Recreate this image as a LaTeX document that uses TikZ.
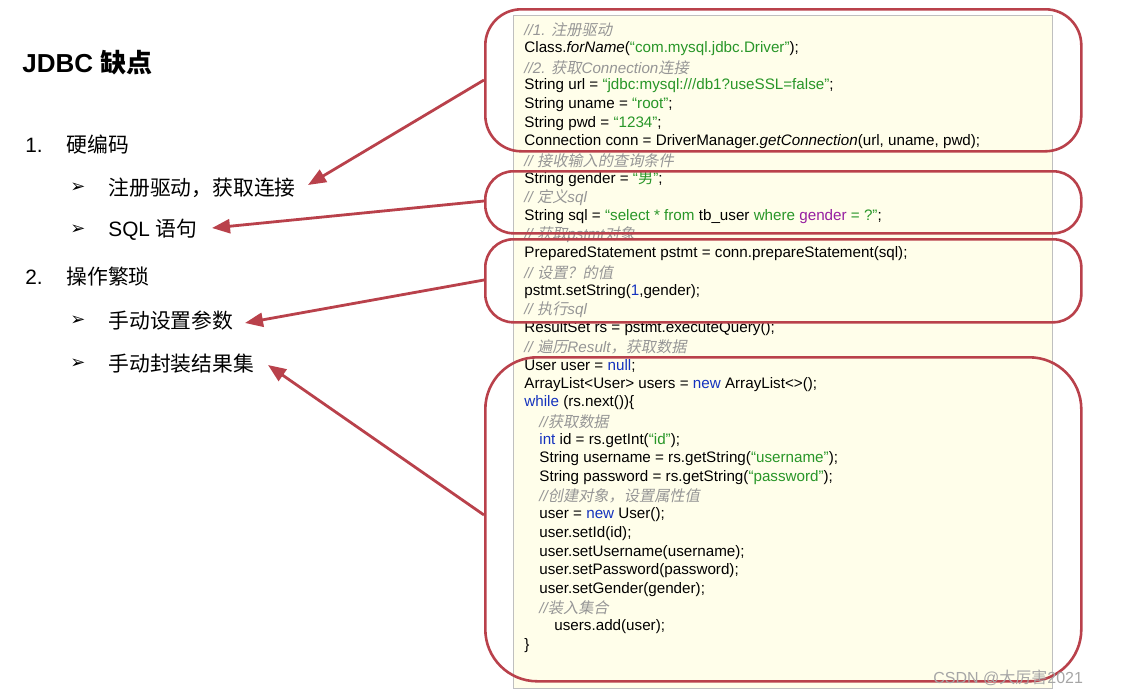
\documentclass[tikz,border=0pt]{standalone}
\usepackage{fontspec}
\setmainfont{Liberation Sans}
\newfontfamily\cjk{Noto Sans CJK SC}
\newfontfamily\cjki{Noto Sans CJK SC}[FakeSlant=0.2]
\newfontfamily\dv{DejaVu Sans}
\usetikzlibrary{arrows.meta}
\definecolor{boxred}{RGB}{185,65,75}
\definecolor{strgreen}{RGB}{40,150,40}
\definecolor{kwblue}{RGB}{20,50,190}
\definecolor{cmtgrey}{RGB}{150,150,150}
\definecolor{purp}{RGB}{150,30,160}
\definecolor{paper}{RGB}{255,254,234}
\tikzset{
	code/.style={font=\fontsize{7.6}{8}\selectfont, anchor=west, inner sep=0pt},
	lab/.style={font=\fontsize{10.4}{12}\selectfont, anchor=west, inner sep=0pt},
	redbox/.style={draw=boxred, line width=1.3pt, rounded corners=14pt},
	rarr/.style={draw=boxred, line width=1.4pt, -{Triangle[length=9pt,width=7pt]}},
}
\newcommand{\cm}[1]{\textcolor{cmtgrey}{\itshape #1}}
\newcommand{\zh}[1]{{\cjki #1}}
\newcommand{\st}[1]{\textcolor{strgreen}{#1}}
\newcommand{\kw}[1]{\textcolor{kwblue}{#1}}
\newcommand{\ind}{\hspace*{7.5pt}}
\begin{document}
\begin{tikzpicture}[x=0.5pt,y=-0.5pt]
	\useasboundingbox (0,0) rectangle (1128,696);
	
	% ------------------- code sheet -------------------
	\node[draw=black!25, fill=paper, minimum width=269.5pt, minimum height=336.5pt, inner sep=0pt, anchor=north west] (sheet) at (513,15) {};
	
	\foreach \t [count=\i] in {
		{\cm{//1. \zh{注册驱动}}},
		{Class.\textit{forName}(\st{“com.mysql.jdbc.Driver”});},
		{\cm{//2. \zh{获取}Connection\zh{连接}}},
		{String url = \st{“jdbc:mysql:///db1?useSSL=false”};},
		{String uname = \st{“root”};},
		{String pwd = \st{“1234”};},
		{Connection conn = DriverManager.\textit{getConnection}(url, uname, pwd);},
		{\cm{// \zh{接收输入的查询条件}}},
		{String gender = \st{“{\cjk 男}”};},
		{\cm{// \zh{定义}sql}},
		{String sql = \st{“select * from} tb\_user \st{where} \textcolor{purp}{gender} \st{= ?”};},
		{\cm{// \zh{获取}pstmt\zh{对象}}},
		{PreparedStatement pstmt = conn.prepareStatement(sql);},
		{\cm{// \zh{设置？的值}}},
		{pstmt.setString(\kw{1},gender);},
		{\cm{// \zh{执行}sql}},
		{ResultSet rs = pstmt.executeQuery();},
		{\cm{// \zh{遍历}Result\zh{，获取数据}}},
		{User user = \kw{null};},
		{ArrayList<User> users = \kw{new} ArrayList<>();},
		{\kw{while} (rs.next())\{},
		{\ind\cm{//\zh{获取数据}}},
		{\ind\kw{int} id = rs.getInt(\st{“id”});},
		{\ind String username = rs.getString(\st{“username”});},
		{\ind String password = rs.getString(\st{“password”});},
		{\ind\cm{//\zh{创建对象，设置属性值}}},
		{\ind user = \kw{new} User();},
		{\ind user.setId(id);},
		{\ind user.setUsername(username);},
		{\ind user.setPassword(password);},
		{\ind user.setGender(gender);},
		{\ind\cm{//\zh{装入集合}}},
		{\ind\ind users.add(user);},
		{\}}}
		\node[code] (c\i) at (524,{30+18.65*(\i-1)}) {\t};
	
	% ------------------- red frames -------------------
	\node[redbox, rounded corners=18pt, minimum width=298pt, minimum height=71pt, inner sep=0pt, anchor=north west] (b1) at (484,8) {};
	\node[redbox, minimum width=298pt, minimum height=31pt, inner sep=0pt, anchor=north west] (b2) at (484,170) {};
	\node[redbox, minimum width=298pt, minimum height=41.5pt, inner sep=0pt, anchor=north west] (b3) at (484,238) {};
	\node[redbox, rounded corners=26pt, minimum width=298pt, minimum height=162pt, inner sep=0pt, anchor=north west] (b4) at (484,356) {};
	
	% ------------------- left list -------------------
	\node[lab, font=\fontsize{13}{15}\selectfont\bfseries] (title) at (22,63) {JDBC {\cjk\bfseries 缺点}};
	\node[lab] (n1) at (25,145) {1.};
	\node[lab] (h1) at (66,145) {\cjk 硬编码};
	\node[lab] (m1) at (70,188) {\dv\fontsize{9}{10}\selectfont ➢};
	\node[lab] (i1) at (108,188) {\cjk 注册驱动，获取连接};
	\node[lab] (m2) at (70,230) {\dv\fontsize{9}{10}\selectfont ➢};
	\node[lab] (i2) at (108,230) {SQL {\cjk 语句}};
	\node[lab] (n2) at (25,277) {2.};
	\node[lab] (h2) at (66,277) {\cjk 操作繁琐};
	\node[lab] (m3) at (70,321) {\dv\fontsize{9}{10}\selectfont ➢};
	\node[lab] (i3) at (108,321) {\cjk 手动设置参数};
	\node[lab] (m4) at (70,364) {\dv\fontsize{9}{10}\selectfont ➢};
	\node[lab] (i4) at (108,364) {\cjk 手动封装结果集};
	
	% ------------------- arrows -------------------
	\coordinate (e1) at (308,185);
	\coordinate (e2) at (212,228);
	\coordinate (e3) at (245,323);
	\coordinate (e4) at (268,365);
	\draw[rarr] (b1.west |- 0,80) -- (e1);
	\draw[rarr] (b2.west |- 0,201) -- (e2);
	\draw[rarr] (b3.west |- 0,280) -- (e3);
	\draw[rarr] (b4.west |- 0,515) -- (e4);
	
	% watermark
	\node[lab, text=black!35, font=\fontsize{8}{9}\selectfont] (wm) at (933,678) {CSDN @{\cjk 大厉害}2021};
\end{tikzpicture}
\end{document}
